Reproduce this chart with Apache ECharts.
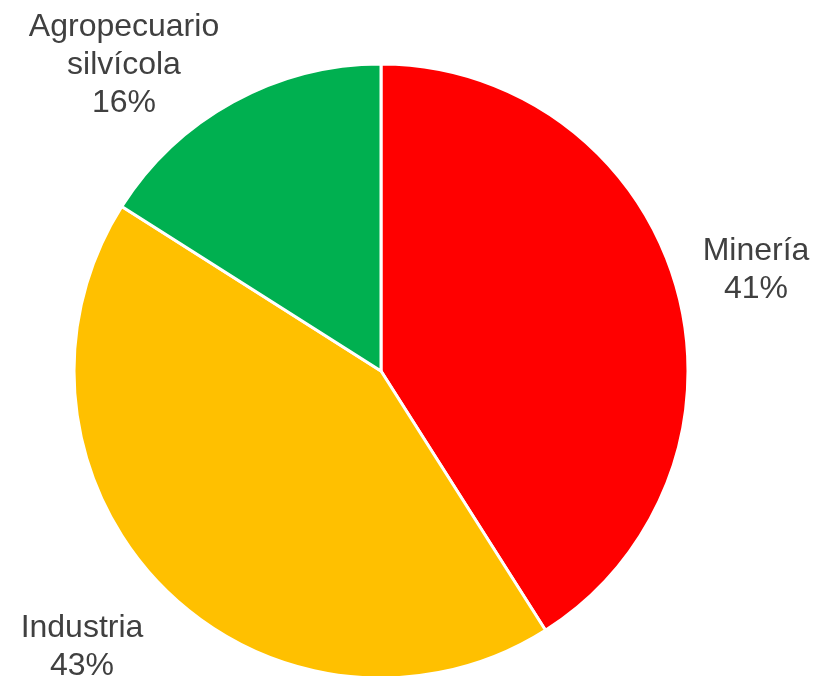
<!DOCTYPE html>
<html>
<head>
<meta charset="utf-8">
<script src="https://cdn.jsdelivr.net/npm/echarts@6/dist/echarts.min.js"></script>
<style>
  html, body { margin: 0; padding: 0; background: #fff; }
  #chart { width: 813px; height: 676px; }
</style>
</head>
<body>
<div id="chart"></div>
<script>
// Sectors, in clockwise order from 12 o'clock
const categories = ['Minería', 'Industria', 'Agropecuario\nsilvícola'];
const shares = [41, 43, 16];
const colors = ['#FF0000', '#FFC000', '#00B050'];

// Label anchor points (pixels) for each sector's text block
const labelAnchors = [[756, 270], [82, 647], [124, 65]];

const chart = echarts.init(document.getElementById('chart'), null, { renderer: 'canvas' });

chart.setOption({
  animation: false,
  series: [{
    type: 'pie',
    center: [381, 371],
    radius: [0, 307],
    startAngle: 90,
    clockwise: true,
    data: categories.map((name, i) => ({
      name: name,
      value: shares[i],
      itemStyle: { color: colors[i] }
    })),
    itemStyle: { borderColor: '#ffffff', borderWidth: 3 },
    label: {
      show: true,
      position: 'outside',
      formatter: p => p.name + '\n' + p.value + '%',
      fontFamily: 'Liberation Sans, Arial, sans-serif',
      fontSize: 32,
      lineHeight: 38,
      color: '#404040',
      align: 'center',
      overflow: 'none',
      width: 300
    },
    labelLine: { show: false },
    labelLayout: params => {
      const a = labelAnchors[params.dataIndex];
      return { x: a[0], y: a[1], align: 'center', verticalAlign: 'middle', hideOverlap: false };
    },
    emphasis: { disabled: true }
  }]
});
</script>
</body>
</html>
